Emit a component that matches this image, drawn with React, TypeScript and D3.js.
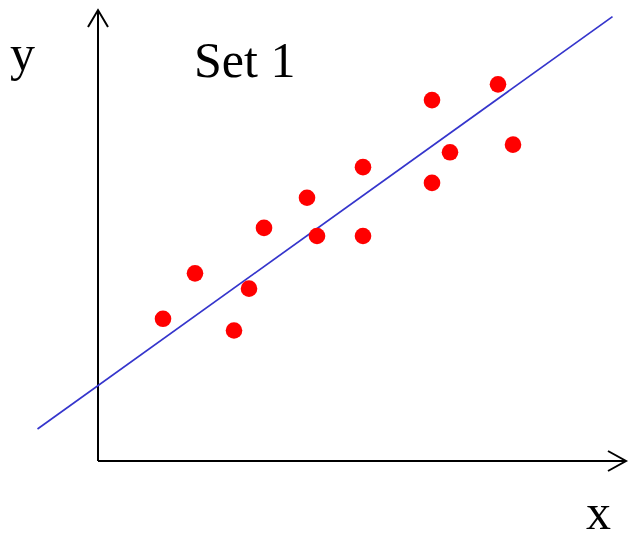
import React from "react";
import * as d3 from "d3";

const xValues = [1.3, 1.94, 2.72, 3.02, 3.32, 4.18, 4.38, 5.3, 5.3, 6.68, 6.68, 7.04, 8.0, 8.3];
const yValues = [3.16, 4.17, 2.9, 3.83, 5.18, 5.85, 5.0, 5.0, 6.53, 8.02, 6.18, 6.86, 8.37, 7.03];
const fitX = [-1.21, 10.29];
const fitIntercept = 1.675;
const fitSlope = 0.797;
const axisXMax = 10.56;
const axisYMax = 10.02;
const title = "Set 1";
const xLabel = "x";
const yLabel = "y";

const W = 629;
const H = 533;

export default function App() {
  const x = d3.scaleLinear().domain([0, 10]).range([98, 598]);
  const y = d3.scaleLinear().domain([0, 10]).range([461, 11]);
  const pts = xValues.map((v, i) => [v, yValues[i]] as [number, number]);
  const fit = fitX.map((v) => [v, fitIntercept + fitSlope * v] as [number, number]);
  const line = d3
    .line<[number, number]>()
    .x((d) => x(d[0]))
    .y((d) => y(d[1]));
  const x0 = x(0);
  const y0 = y(0);
  const xt = x(axisXMax);
  const yt = y(axisYMax);
  const font = "'Liberation Serif', 'Times New Roman', serif";
  return (
    <svg
      width={W}
      height={H}
      style={{ position: "absolute", left: 0, top: 0, background: "#fff" }}
    >
      <g fill="none" stroke="#000" strokeWidth={2}>
        <line x1={x0} y1={y0} x2={x0} y2={yt} />
        <polyline points={`${x0 - 10},${yt + 17} ${x0},${yt} ${x0 + 10},${yt + 17}`} />
        <line x1={x0} y1={y0} x2={xt} y2={y0} />
        <polyline points={`${xt - 18},${y0 - 10} ${xt},${y0} ${xt - 18},${y0 + 10}`} />
      </g>
      <path d={line(fit) || ""} stroke="#3535cc" strokeWidth={1.7} fill="none" />
      {pts.map((p, i) => (
        <circle key={i} cx={x(p[0])} cy={y(p[1])} r={8.3} fill="#ff0000" />
      ))}
      <text x={10} y={70} fontFamily={font} fontSize={50} fill="#000">
        {yLabel}
      </text>
      <text x={194} y={77} fontFamily={font} fontSize={50} fill="#000">
        {title}
      </text>
      <text x={586} y={529} fontFamily={font} fontSize={50} fill="#000">
        {xLabel}
      </text>
    </svg>
  );
}
